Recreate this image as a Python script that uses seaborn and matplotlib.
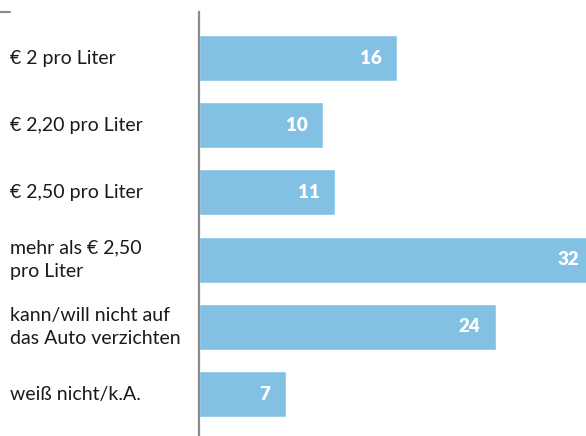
import matplotlib
matplotlib.use('Agg')
import matplotlib.pyplot as plt
import matplotlib.transforms as mtransforms
from matplotlib.lines import Line2D
import pandas as pd
import seaborn as sns

# Daten
kategorien = ['€ 2 pro Liter', '€ 2,20 pro Liter', '€ 2,50 pro Liter',
              'mehr als € 2,50\npro Liter', 'kann/will nicht auf\ndas Auto verzichten',
              'weiß nicht/k.A.']
werte = [16, 10, 11, 32, 24, 7]

df = pd.DataFrame({'kategorie': kategorien, 'wert': werte})

sns.set_style('white')
plt.rcParams['font.family'] = ['Lato', 'DejaVu Sans']

fig = plt.figure(figsize=(5.86, 4.36), dpi=100)
ax = fig.add_axes([199 / 586, 0, (586 - 199) / 586, (436 - 12) / 436])

sns.barplot(data=df, y='kategorie', x='wert', orient='h', color='#82c1e4',
            saturation=1, width=0.685, ax=ax)

ax.set_xlim(0, 31.27)
ax.set_ylim(5.625, -0.685)
ax.set_xlabel('')
ax.set_ylabel('')
ax.set_xticks([])
ax.set_yticks([])
for s in ['top', 'right', 'bottom']:
    ax.spines[s].set_visible(False)
ax.spines['left'].set_color('#8c8c8c')
ax.spines['left'].set_linewidth(1.6)

# Beschriftungen links
trans = mtransforms.blended_transform_factory(fig.transFigure, ax.transData)
for i, k in enumerate(kategorien):
    ax.text(10 / 586, i, k, transform=trans, ha='left', va='center',
            fontsize=14, color='#1a1a1a', linespacing=1.45, clip_on=False)

# Werte in den Balken
for i, v in enumerate(werte):
    ax.annotate(str(v), xy=(v, i), xytext=(-11, 0), textcoords='offset points',
                ha='right', va='center', color='white', fontweight='heavy',
                fontsize=13.5, annotation_clip=False)

# kleine Linie oben links
fig.add_artist(Line2D([0, 10 / 586], [1 - 12 / 436, 1 - 12 / 436],
                      transform=fig.transFigure, color='#8c8c8c', linewidth=1.6))

fig.savefig('out.png', dpi=100)
